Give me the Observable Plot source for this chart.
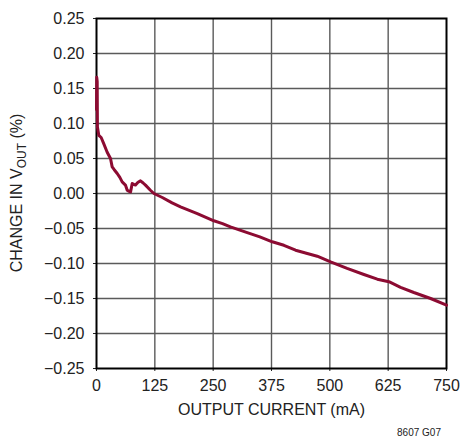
<!DOCTYPE html>
<html>
<head>
<meta charset="utf-8">
<script src="https://cdn.jsdelivr.net/npm/d3@7"></script>
<script src="https://cdn.jsdelivr.net/npm/@observablehq/plot@0.6"></script>
<style>
  html, body { margin: 0; padding: 0; background: #fff; }
  #chart { position: relative; width: 461px; height: 438px; }
  #note { position: absolute; left: 0; top: 427px; width: 441px; text-align: right;
          font: 10px "Liberation Sans", Arial, sans-serif; color: #222; }
</style>
</head>
<body>
<div id="chart"></div>
<script>
const current = [0, 0.5, 1.5, 2, 5, 10, 15.7, 22.9, 30, 33.6, 38, 44.4, 50, 55, 62, 65.8, 70, 73, 76.5, 80, 83.6, 89, 94.3, 100, 105, 115, 123, 141, 162, 180, 216, 251.5, 270, 287, 323, 350, 376.6, 401.6, 426.6, 473, 501.6, 537, 573, 601.7, 626.6, 651.6, 680, 716, 750];
const change = [0.12, 0.166, 0.16, 0.095, 0.083, 0.08, 0.071, 0.059, 0.05, 0.038, 0.034, 0.0286, 0.023, 0.0166, 0.012, 0.0047, 0.003, 0.0023, 0.0143, 0.013, 0.012, 0.016, 0.018, 0.015, 0.012, 0.005, 0.0, -0.0057, -0.0134, -0.019, -0.0286, -0.039, -0.043, -0.0477, -0.056, -0.062, -0.069, -0.074, -0.081, -0.0896, -0.0977, -0.107, -0.1157, -0.1224, -0.126, -0.134, -0.1414, -0.15, -0.1596];
const xTicks = [0, 125, 250, 375, 500, 625, 750];
const yTicks = [-0.25, -0.2, -0.15, -0.1, -0.05, 0, 0.05, 0.1, 0.15, 0.2, 0.25];

const data = current.map((c, i) => ({x: c, y: change[i]}));
const FONT = '"Liberation Sans", Arial, sans-serif';

const chart = Plot.plot({
  width: 461,
  height: 438,
  marginLeft: 96,
  marginRight: 15,
  marginTop: 18,
  marginBottom: 70,
  style: {fontFamily: FONT, fontSize: "16px", color: "#222", background: "#fff"},
  x: {domain: [0, 750], ticks: xTicks, tickFormat: d => String(d), tickSize: 3, tickPadding: 8,
      label: "OUTPUT CURRENT (mA)", labelAnchor: "center", labelOffset: 46, labelArrow: "none"},
  y: {domain: [-0.25, 0.25], ticks: yTicks, tickFormat: d3.format(".2f"), tickSize: 3, tickPadding: 9,
      label: null},
  marks: [
    Plot.gridX(xTicks.slice(1, -1), {stroke: "#5a5a5a", strokeOpacity: 1, strokeWidth: 1.4}),
    Plot.gridY(yTicks.slice(1, -1), {stroke: "#5a5a5a", strokeOpacity: 1, strokeWidth: 1.4}),
    Plot.frame({stroke: "#000", strokeWidth: 2}),
    Plot.line(data, {x: "x", y: "y", stroke: "#8c0b32", strokeWidth: 3, curve: "linear"})
  ]
});
document.getElementById("chart").appendChild(chart);

// Y axis label with subscript
const svg = d3.select(chart);
const t = svg.append("text")
  .attr("transform", "translate(22,193) rotate(-90)")
  .attr("text-anchor", "middle")
  .attr("font-family", FONT)
  .attr("font-size", 16)
  .attr("fill", "#222");
t.append("tspan").text("CHANGE IN V");
t.append("tspan").attr("dy", 4).attr("font-size", 12).text("OUT");
t.append("tspan").attr("dy", -4).text(" (%)");

const note = document.createElement("div");
note.id = "note";
note.textContent = "8607 G07";
document.getElementById("chart").appendChild(note);
</script>
</body>
</html>
